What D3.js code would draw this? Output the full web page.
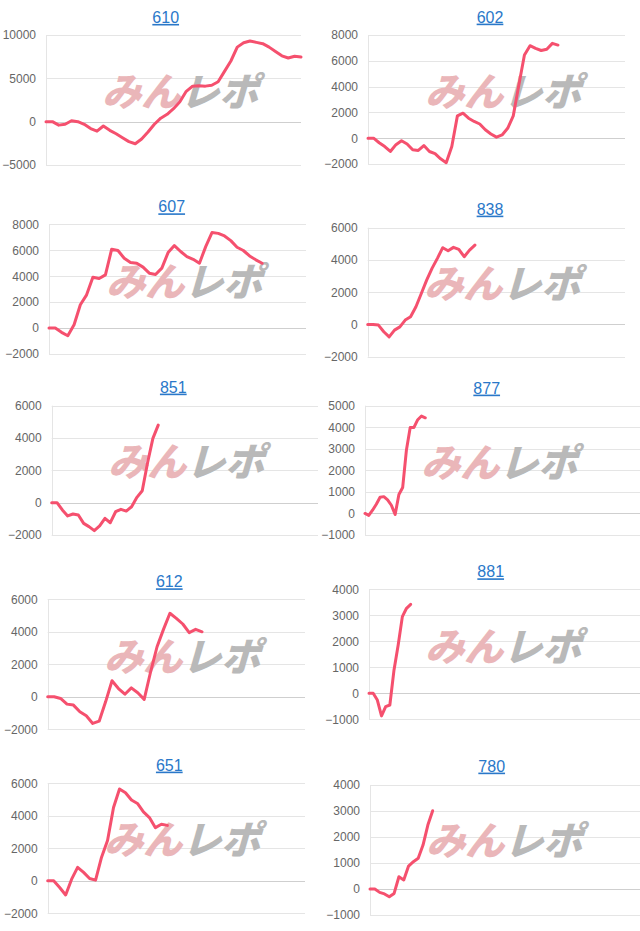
<!DOCTYPE html>
<html>
<head>
<meta charset="utf-8">
<script src="https://cdn.jsdelivr.net/npm/d3@7"></script>
<style>
  html, body { margin: 0; padding: 0; background: #fff; }
  svg { display: block; }
</style>
</head>
<body>
<svg id="chart" width="640" height="931"></svg>
<script>
// ---- data ----
const titles = ["610", "602", "607", "838", "851", "877", "612", "881", "651", "780"];

const values610 = [0, 0, -400, -300, 100, 0, -300, -800, -1100, -500, -1000, -1400, -1850, -2300, -2550, -2000, -1200, -300, 400, 850, 1500, 2300, 3500, 4100, 4150, 4100, 4200, 4600, 5800, 7000, 8600, 9100, 9300, 9150, 9000, 8600, 8100, 7600, 7350, 7550, 7450];
const values602 = [0, 0, -350, -650, -1030, -500, -200, -450, -900, -950, -570, -1030, -1200, -1600, -1900, -650, 1730, 1940, 1550, 1300, 1100, 650, 330, 80, 250, 770, 1730, 4130, 6450, 7170, 6970, 6800, 6900, 7350, 7220];
const values607 = [0, 0, -330, -590, 250, 1800, 2560, 3920, 3820, 4100, 6080, 5980, 5380, 5050, 5000, 4700, 4230, 4130, 4620, 5820, 6360, 5900, 5510, 5300, 5000, 6280, 7360, 7300, 7100, 6740, 6230, 5980, 5560, 5260, 5000];
const values838 = [0, 0, -40, -450, -770, -350, -150, 270, 480, 1100, 1920, 2750, 3480, 4100, 4760, 4570, 4780, 4650, 4200, 4610, 4920];
const values851 = [0, 0, -450, -820, -700, -760, -1280, -1480, -1730, -1440, -970, -1240, -560, -410, -520, -250, 330, 740, 2470, 3980, 4800];
const values877 = [0, -90, 150, 430, 750, 780, 630, 380, -50, 880, 1200, 2950, 3990, 3990, 4350, 4520, 4440];
const values612 = [0, 0, -100, -450, -510, -920, -1170, -1640, -1500, -310, 990, 510, 160, 550, 250, -160, 1540, 3080, 4150, 5140, 4830, 4480, 3950, 4150, 4000];
const values881 = [0, 0, -260, -870, -510, -450, 900, 1860, 2950, 3270, 3420];
const values651 = [0, 0, -410, -870, 100, 830, 520, 140, 40, 1450, 2480, 4510, 5650, 5420, 4970, 4760, 4240, 3890, 3270, 3480, 3410];
const values780 = [0, 0, -130, -190, -300, -170, 470, 350, 880, 1050, 1180, 1690, 2460, 3010];

const ticks610 = [-5000, 0, 5000, 10000];
const ticks602 = [-2000, 0, 2000, 4000, 6000, 8000];
const ticks607 = [-2000, 0, 2000, 4000, 6000, 8000];
const ticks838 = [-2000, 0, 2000, 4000, 6000];
const ticks851 = [-2000, 0, 2000, 4000, 6000];
const ticks877 = [-1000, 0, 1000, 2000, 3000, 4000, 5000];
const ticks612 = [-2000, 0, 2000, 4000, 6000];
const ticks881 = [-1000, 0, 1000, 2000, 3000, 4000];
const ticks651 = [-2000, 0, 2000, 4000, 6000];
const ticks780 = [-1000, 0, 1000, 2000, 3000, 4000];

// number of x slots on each panel's axis
const slots = [40, 46, 41, 48, 50, 73, 40, 65, 43, 56];

const seriesList = [values610, values602, values607, values838, values851, values877, values612, values881, values651, values780];
const tickList = [ticks610, ticks602, ticks607, ticks838, ticks851, ticks877, ticks612, ticks881, ticks651, ticks780];

// ---- layout (positions only) ----
const layout = [
  {left: 46,   right: 301, top: 35,    bottom: 165,   tx: 165.7, ty: 17.3,  wx: 184},
  {left: 368,  right: 625, top: 35,    bottom: 164,   tx: 490,   ty: 17,    wx: 507},
  {left: 49,   right: 306, top: 224.3, bottom: 354,   tx: 171.7, ty: 206.7, wx: 188},
  {left: 367.7,right: 625, top: 227.7, bottom: 356.7, tx: 490,   ty: 209,   wx: 506},
  {left: 51.7, right: 318, top: 405.7, bottom: 535,   tx: 173.3, ty: 387,   wx: 190},
  {left: 365,  right: 640, top: 405.7, bottom: 535,   tx: 486.7, ty: 388,   wx: 503},
  {left: 47.7, right: 305, top: 599.3, bottom: 729.3, tx: 169.3, ty: 581.7, wx: 186},
  {left: 369,  right: 640, top: 589.3, bottom: 719.3, tx: 490.7, ty: 571.7, wx: 507},
  {left: 47.7, right: 305, top: 783.3, bottom: 913.3, tx: 169.3, ty: 765,   wx: 186},
  {left: 370,  right: 640, top: 785,   bottom: 915,   tx: 491.7, ty: 766,   wx: 508}
];

const svg = d3.select("#chart");
const FONT = "'Liberation Sans', Arial, sans-serif";

seriesList.forEach((vals, k) => {
  const L = layout[k];
  const tks = tickList[k];
  const g = svg.append("g");

  const y = d3.scaleLinear().domain(d3.extent(tks)).range([L.bottom, L.top]);
  const x = d3.scaleLinear().domain([0, slots[k]]).range([L.left, L.right]);

  // gridlines
  g.selectAll("line.grid").data(tks).enter().append("line")
    .attr("x1", L.left).attr("x2", L.right)
    .attr("y1", d => Math.round(y(d)) + 0.5).attr("y2", d => Math.round(y(d)) + 0.5)
    .attr("stroke", d => (d === 0 ? "#cfcfcf" : "#e5e5e5"))
    .attr("stroke-width", 1);

  // left axis line
  g.append("line")
    .attr("x1", Math.round(L.left) + 0.5).attr("x2", Math.round(L.left) + 0.5)
    .attr("y1", y(tks[tks.length - 1])).attr("y2", y(tks[0]))
    .attr("stroke", "#e5e5e5");

  // y axis labels via d3 axis
  const axis = d3.axisLeft(y).tickValues(tks).tickSize(0).tickPadding(10).tickFormat(d3.format("d"));
  const ag = g.append("g").attr("transform", `translate(${L.left},0)`).call(axis);
  ag.select(".domain").remove();
  ag.selectAll("text").attr("fill", "#666").style("font-family", FONT).style("font-size", "12px");

  // title
  g.append("text")
    .attr("x", L.tx).attr("y", L.ty).attr("dy", "0.35em")
    .attr("text-anchor", "middle")
    .attr("fill", "#2a78c9")
    .style("font-family", FONT).style("font-size", "16px")
    .style("text-decoration", "underline")
    .text(titles[k]);

  // watermark
  const wy = L.ty + 75;
  const wm = g.append("text")
    .attr("transform", `translate(${L.wx},${wy}) skewX(-16)`)
    .attr("text-anchor", "middle").attr("dy", "0.36em")
    .style("font-family", "'Noto Sans CJK JP', sans-serif")
    .style("font-weight", 900).style("font-size", "39px")
    .style("letter-spacing", "0px");
  wm.append("tspan").attr("fill", "#eab6b9").text("みん");
  wm.append("tspan").attr("fill", "#b9b9b9").text("レポ");

  // line
  const line = d3.line().x((d, i) => x(i)).y(d => y(d));
  g.append("path").datum(vals)
    .attr("d", line)
    .attr("fill", "none")
    .attr("stroke", "#f5506e")
    .attr("stroke-width", 3)
    .attr("stroke-linejoin", "round")
    .attr("stroke-linecap", "round");
});
</script>
</body>
</html>
